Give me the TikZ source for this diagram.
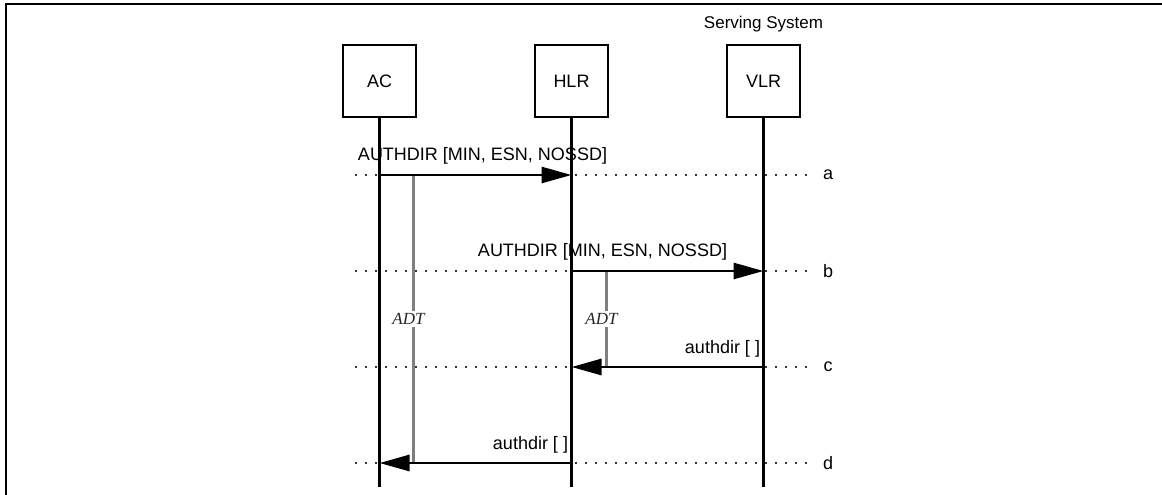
\documentclass[tikz,border=0pt]{standalone}
\usepackage{fontspec}
\setmainfont{Liberation Sans}
\newfontfamily\timerfont{Liberation Serif}
\usetikzlibrary{arrows.meta,positioning,calc}
\definecolor{timer}{HTML}{7F7F7F}
\definecolor{guide}{HTML}{333333}
\tikzset{
  entity/.style={draw,line width=1.6pt,minimum width=73pt,minimum height=72pt,
    font=\fontsize{18}{21}\selectfont},
  lifeline/.style={draw,line width=2.2pt},
  msg/.style={-{Triangle[length=30pt,width=16pt]},line width=2.8pt},
  msglabel/.style={font=\fontsize{18}{21}\selectfont,inner sep=1pt},
  adt/.style={draw=timer,line width=2.2pt},
  adtlabel/.style={font=\timerfont\itshape\fontsize{17}{20}\selectfont,
    fill=white,inner sep=2pt,text=black!85},
  stepline/.style={draw=guide,line width=1.5pt,dash pattern=on 1.5pt off 8.5pt},
  steplabel/.style={font=\fontsize{18}{21}\selectfont}
}
\begin{document}
\begin{tikzpicture}[x=1pt,y=-1pt]
  \useasboundingbox (0,0) rectangle (1162,495);
  \draw[line width=2.5pt] (1162,4) -| (6,495);

  % entities
  \node[entity] (ac) at (379.5,81) {AC};
  \node[entity] (hlr) at (571.5,81) {HLR};
  \node[entity] (vlr) at (763.5,81) {VLR};
  \node[font=\fontsize{17}{20}\selectfont,above=9pt of vlr] (ss) {Serving System};

  \foreach \e in {ac,hlr,vlr}
    \draw[lifeline] (\e.south) -- (\e.south |- 0,487);

  % steps
  \foreach \s/\y in {a/175,b/271,c/367,d/463} {
    \draw[stepline] (355,\y) -- (808,\y);
    \node[steplabel] (lbl-\s) at (828,\y) {\s};
    \coordinate (ac-\s) at (ac.south |- 0,\y);
    \coordinate (hlr-\s) at (hlr.south |- 0,\y);
    \coordinate (vlr-\s) at (vlr.south |- 0,\y);
  }

  % timers
  \draw[adt] ($(ac-a)+(34,0)$) -- node[adtlabel,xshift=-5pt] (adt1) {ADT} ($(ac-d)+(34,0)$);
  \draw[adt] ($(hlr-b)+(35,0)$) -- node[adtlabel,xshift=-5pt] (adt2) {ADT} ($(hlr-c)+(35,0)$);

  % messages
  \draw[msg] (ac-a) -- node[msglabel,above,xshift=7pt,yshift=8pt] {AUTHDIR [MIN, ESN, NOSSD]} (hlr-a);
  \draw[msg] (hlr-b) -- node[msglabel,above,xshift=-65pt,yshift=8pt] {AUTHDIR [MIN, ESN, NOSSD]} (vlr-b);
  \draw[msg] (vlr-c) -- node[msglabel,above,xshift=55pt,yshift=7pt] {authdir [ ]} (hlr-c);
  \draw[msg] (hlr-d) -- node[msglabel,above,xshift=55pt,yshift=7pt] {authdir [ ]} (ac-d);
\end{tikzpicture}
\end{document}
